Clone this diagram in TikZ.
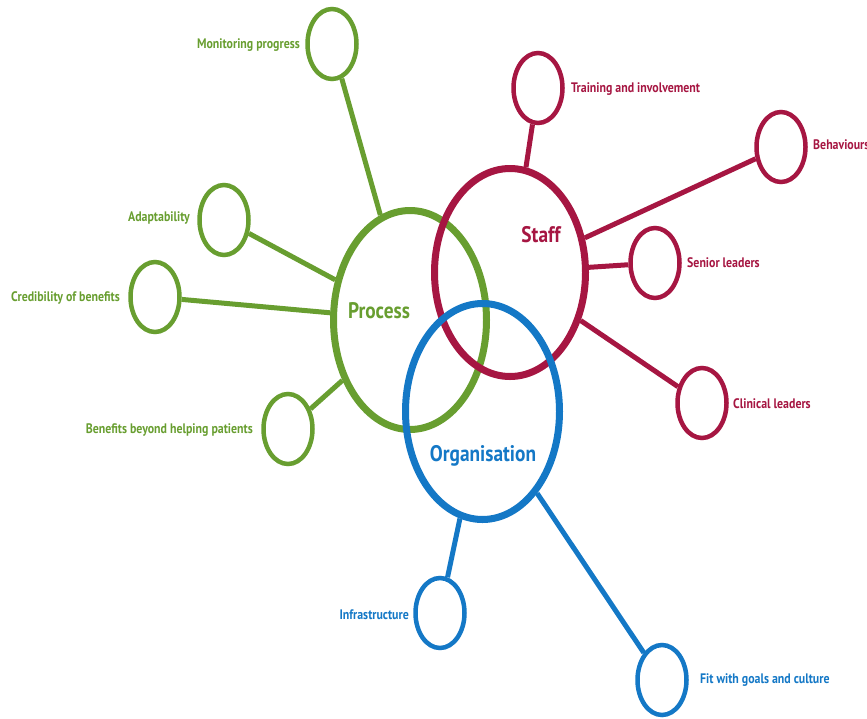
\documentclass[tikz,border=0pt]{standalone}
\usepackage{fontspec}
\setmainfont{PT Sans}
\newfontfamily\labfont[FakeStretch=0.86]{PT Sans}
\usetikzlibrary{shapes.geometric}
\definecolor{cgreen}{RGB}{104,158,48}
\definecolor{cred}{RGB}{166,22,66}
\definecolor{cblue}{RGB}{20,120,198}
\tikzset{
  big/.style={ellipse,draw,line width=7pt,inner sep=0pt,minimum width=153pt,minimum height=215pt},
  small/.style={ellipse,draw,line width=4.5pt,inner sep=0pt,minimum width=49pt,minimum height=70pt},
  conn/.style={line width=5pt},
  lab/.style={font=\labfont\bfseries\fontsize{13.8}{16}\selectfont,inner sep=0pt},
  biglab/.style={font=\labfont\bfseries\fontsize{22.5}{26}\selectfont,inner sep=0pt}
}
\begin{document}
\begin{tikzpicture}[x=1pt,y=-1pt]
\useasboundingbox (0,0) rectangle (867,718);
% big circles
\node[big,cgreen,minimum height=219pt] (proc) at (410,320) {};
\node[big,cred,minimum width=151pt,minimum height=208pt] (staff) at (510,272.5) {};
\node[big,cblue,minimum width=154pt,minimum height=216pt] (org) at (482.5,411.5) {};
% small circles
\node[small,cgreen] (mon) at (332,44) {};
\node[small,cgreen] (ada) at (224,220) {};
\node[small,cgreen] (cred) at (155,297) {};
\node[small,cgreen] (ben) at (288,429) {};
\node[small,cred] (tra) at (538,88) {};
\node[small,cred] (beh) at (781,147) {};
\node[small,cred] (sen) at (655,263) {};
\node[small,cred] (cli) at (702,403) {};
\node[small,cblue] (inf) at (440,613) {};
\node[small,cblue] (fit) at (662,680) {};
% connectors
\draw[conn,cgreen] (proc) -- (mon);
\draw[conn,cgreen] (proc) -- (ada);
\draw[conn,cgreen] (proc) -- (cred);
\draw[conn,cgreen] (proc) -- (ben);
\draw[conn,cred] (staff) -- (tra);
\draw[conn,cred] (staff) -- (beh);
\draw[conn,cred] (staff) -- (sen);
\draw[conn,cred] (staff) -- (cli);
\draw[conn,cblue] (org) -- (inf);
\draw[conn,cblue] (org) -- (fit);
% labels
\node[lab,cgreen,anchor=east] (tmon) at (300,45) {Monitoring progress};
\node[lab,cgreen,anchor=east] (tada) at (190,218) {Adaptability};
\node[lab,cgreen,anchor=east] (tcred) at (120,298) {Credibility of benefits};
\node[lab,cgreen,anchor=east] (tben) at (253,430) {Benefits beyond helping patients};
\node[lab,cred,anchor=west] (ttra) at (571,89) {Training and involvement};
\node[lab,cred,anchor=west] (tbeh) at (813,145) {Behaviours};
\node[lab,cred,anchor=west] (tsen) at (687,263) {Senior leaders};
\node[lab,cred,anchor=west] (tcli) at (733,404) {Clinical leaders};
\node[lab,cblue,anchor=east] (tinf) at (409,615) {Infrastructure};
\node[lab,cblue,anchor=west] (tfit) at (700,680) {Fit with goals and culture};
\node[biglab,cgreen] (tproc) at (379,311) {Process};
\node[biglab,cred] (tstaff) at (541,235) {Staff};
\node[biglab,cblue] (torg) at (483,456) {Organisation};
\end{tikzpicture}
\end{document}
